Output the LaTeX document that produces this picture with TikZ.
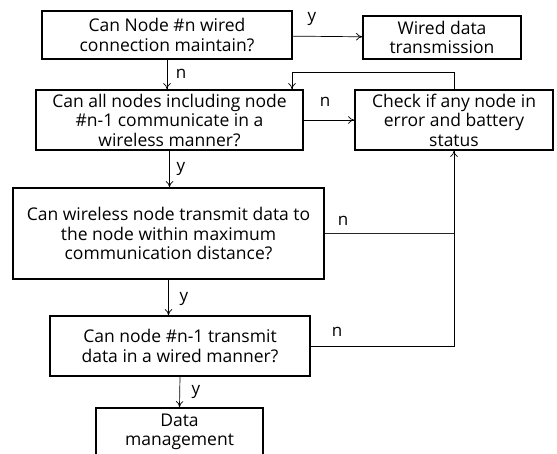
\documentclass[tikz,border=0pt]{standalone}
\usepackage{fontspec}
\setmainfont{Open Sans}
\usetikzlibrary{arrows.meta,positioning,calc}
\tikzset{
  stepbox/.style={draw=black,line width=1.3pt,fill=white,align=center,
                  inner sep=0pt,font=\fontsize{17.5}{19.5}\selectfont},
  flow/.style={-{To[length=2.2mm,width=2.6mm]},draw=black,line width=.7pt},
  link/.style={draw=black!85,line width=.7pt},
  ans/.style={inner sep=0pt,font=\fontsize{17}{19}\selectfont},
}
\begin{document}
\begin{tikzpicture}[x=1pt,y=-1pt]
  \useasboundingbox (0,0) rectangle (557,453);
  \node[stepbox,minimum width=250,minimum height=48] (wire) at (167,35)
    {Can Node \#n wired\\connection maintain?};
  \node[stepbox,minimum width=158,minimum height=43] (wdata) at (442,37.5)
    {Wired data\\transmission};
  \node[stepbox,minimum width=267,minimum height=60] (allwl) at (169.5,120)
    {Can all nodes including node\\\#n-1 communicate in a\\wireless manner?};
  \node[stepbox,minimum width=198,minimum height=60] (check) at (454,120)
    {Check if any node in\\error and battery\\status};
  \node[stepbox,minimum width=311,minimum height=91] (dist) at (168.5,233.5)
    {Can wireless node transmit data to\\the node within maximum\\communication distance?};
  \node[stepbox,minimum width=260,minimum height=60] (wiredn) at (180,346)
    {Can node \#n-1 transmit\\data in a wired manner?};
  \node[stepbox,minimum width=167,minimum height=48] (mgmt) at (179.5,432)
    {Data\\management};
  \coordinate (fb) at (292,72);
  % yes / no branches
  \draw[flow] (wire) -- (wdata);
  \draw[flow] (wire.south) -- (wire.south |- allwl.north);
  \draw[flow] (allwl) -- (check);
  \draw[flow] (check.north) |- (fb) -- (fb |- allwl.north);
  \draw[flow] (allwl.south) -- (allwl.south |- dist.north);
  \draw[link] (dist.east) -- (check.south |- dist.east);
  \draw[flow] (dist.south) -- (dist.south |- wiredn.north);
  \draw[flow] (wiredn.east) -| (check.south);
  \draw[flow] (wiredn.south) -- (mgmt.north);
  % answer labels
  \node[ans] (l1) at (312,19) {y};
  \node[ans] (l2) at (181,74) {n};
  \node[ans] (l3) at (325,102) {n};
  \node[ans] (l4) at (181,169) {y};
  \node[ans] (l5) at (343,221) {n};
  \node[ans] (l6) at (184,299) {y};
  \node[ans] (l7) at (337,332) {n};
  \node[ans] (l8) at (196,392) {y};
\end{tikzpicture}
\end{document}
